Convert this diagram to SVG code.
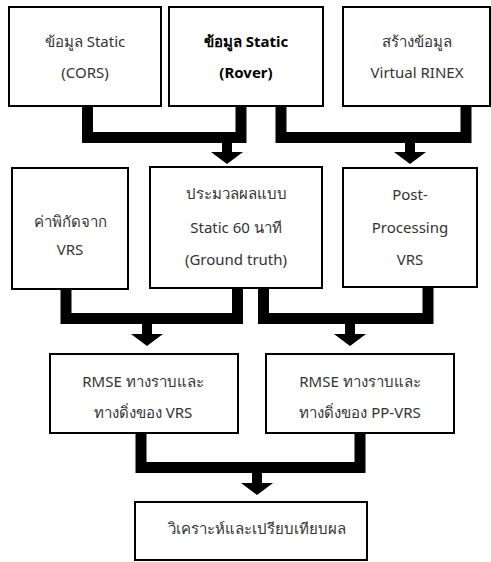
<svg xmlns="http://www.w3.org/2000/svg" width="491" height="562" viewBox="0 0 491 562">
<defs>
<style>
.box{fill:#fff;stroke:#000;stroke-width:2}
.t{font-family:"Noto Sans","DejaVu Sans",sans-serif;font-size:15px;fill:#333;text-anchor:middle}
.b{font-weight:bold;fill:#000}
.c{fill:none;stroke:#000;stroke-width:11;stroke-linejoin:miter}
.a{fill:#000}
</style>
</defs>
<rect width="491" height="562" fill="#fff"/>
<g id="connectors">
<path class="c" d="M87.5 106V137.5H241V106"/>
<path class="a" d="M222 143h10v9h11l-16 12l-16-12h11z"/>
<path class="c" d="M281 106V137.5H466V106"/>
<path class="a" d="M405 143h10v9h11l-16 12l-16-12h11z"/>
<path class="c" d="M66 289V318.5H237.5V288"/>
<path class="a" d="M142 324h10v10h11l-16 12l-16-12h11z"/>
<path class="c" d="M263.5 288V318.5H428V287"/>
<path class="a" d="M345 324h10v10h11l-16 12l-16-12h11z"/>
<path class="c" d="M141 433V467.5H360V433"/>
<path class="a" d="M252 473h10v10h11l-16 12l-16-12h11z"/>
</g>
<g id="n1"><rect class="box" x="9" y="7" width="152" height="99"/><text class="t" x="85" y="47">ข้อมูล Static</text><text class="t" x="85" y="78">(CORS)</text></g>
<g id="n2"><rect class="box" x="169" y="7" width="154" height="99"/><text class="t b" x="246" y="47">ข้อมูล Static</text><text class="t b" x="246" y="78">(Rover)</text></g>
<g id="n3"><rect class="box" x="343" y="7" width="147" height="99"/><text class="t" x="417" y="47">สร้างข้อมูล</text><text class="t" x="417" y="78">Virtual RINEX</text></g>
<g id="n4"><rect class="box" x="12" y="168" width="116" height="121"/><text class="t" x="70" y="227">ค่าพิกัดจาก</text><text class="t" x="70" y="255">VRS</text></g>
<g id="n5"><rect class="box" x="150" y="167" width="172" height="121"/><text class="t" x="236" y="199">ประมวลผลแบบ</text><text class="t" x="236" y="233">Static 60 นาที</text><text class="t" x="236" y="265">(Ground truth)</text></g>
<g id="n6"><rect class="box" x="343" y="168" width="134" height="119"/><text class="t" x="410" y="200">Post-</text><text class="t" x="410" y="233">Processing</text><text class="t" x="410" y="265">VRS</text></g>
<g id="n7"><rect class="box" x="50" y="354" width="188" height="79"/><text class="t" x="143" y="387">RMSE ทางราบและ</text><text class="t" x="143" y="418">ทางดิ่งของ VRS</text></g>
<g id="n8"><rect class="box" x="266" y="354" width="188" height="79"/><text class="t" x="360" y="387">RMSE ทางราบและ</text><text class="t" x="360" y="418">ทางดิ่งของ PP-VRS</text></g>
<g id="n9"><rect class="box" x="135" y="502" width="232" height="58"/><text class="t" x="257" y="534">วิเคราะห์และเปรียบเทียบผล</text></g>
</svg>
